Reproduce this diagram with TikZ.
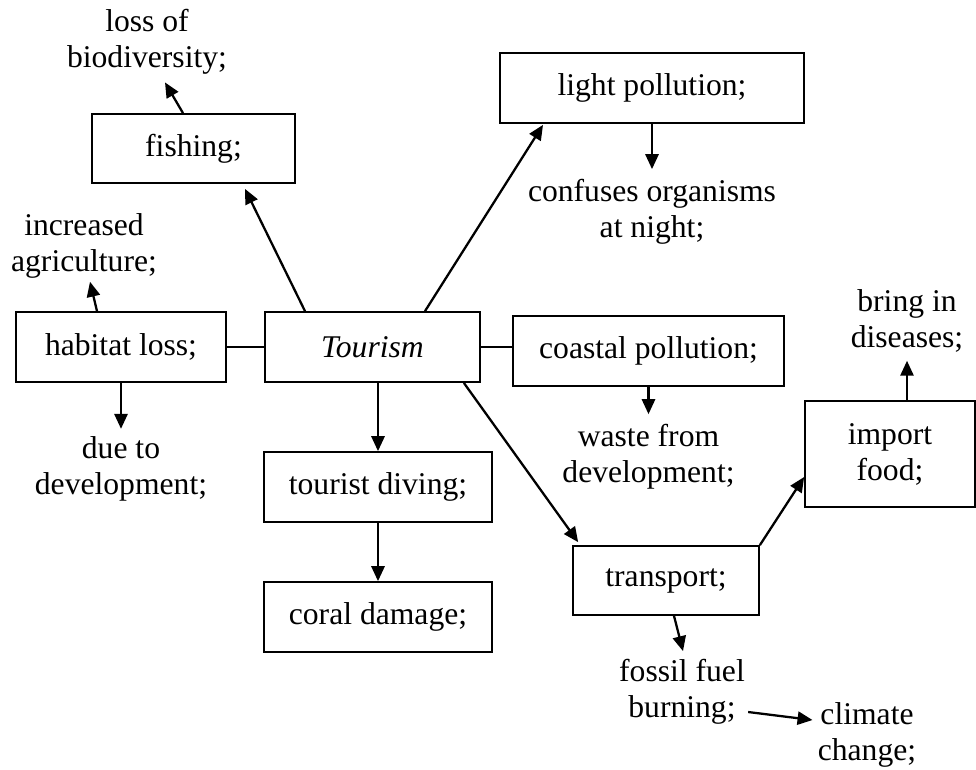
\documentclass[tikz,border=0pt]{standalone}
\usepackage{fontspec}
\setmainfont{Liberation Serif}
\usetikzlibrary{arrows.meta,calc}
\begin{document}
\begin{tikzpicture}[x=0.02cm, y=-0.02cm,
  font=\fontsize{18}{20.5}\selectfont,
  box/.style={draw, line width=1pt, inner sep=0pt, align=center},
  txt/.style={inner sep=0pt, align=center},
  arr/.style={line width=1.3pt, -{Triangle[length=8.5pt,width=7.5pt]}},
  ln/.style={line width=1.3pt}]
\useasboundingbox (0,0) rectangle (976,769);
\node[box, minimum width=4.3cm, minimum height=1.4cm] (tourism) at (372.5,347){\textit{Tourism}};
\node[box, minimum width=4.06cm, minimum height=1.38cm] (fishing) at (193.5,148.5){fishing;};
\node[txt] (loss) at (147,41.5){loss of\\biodiversity;};
\draw[arr]($(tourism.north)+(-67.5,0)$) -- ($(fishing.south)+(51.5,5)$);
\draw[arr]($(fishing.north)+(-10.5,0)$) -- ($(loss.south)+(18,8)$);
\node[box, minimum width=6.08cm, minimum height=1.4cm] (light) at (652,88){light pollution;};
\node[txt] (confuses) at (652,212){confuses organisms\\at night;};
\draw[arr]($(tourism.north)+(52.5,0)$) -- ($(light.south)+(-109,1)$);
\draw[arr](light.south) -- ($(confuses.north)+(0,-10)$);
\node[box, minimum width=4.2cm, minimum height=1.4cm] (habitat) at (121,347){habitat loss;};
\node[txt] (increased) at (84,246){increased\\agriculture;};
\node[txt] (due) at (121,468.5){due to\\development;};
\draw[ln](habitat.east) -- (tourism.west);
\draw[arr]($(habitat.north)+(-24,0)$) -- ($(increased.south)+(6,3)$);
\draw[arr](habitat.south) -- ($(due.north)+(0,-7)$);
\node[box, minimum width=4.56cm, minimum height=1.4cm] (diving) at (378,487){tourist diving;};
\node[box, minimum width=4.56cm, minimum height=1.4cm] (coral) at (378,617){coral damage;};
\draw[arr](tourism.south -| diving.north) -- (diving.north);
\draw[arr](diving.south) -- (coral.north);
\node[box, minimum width=5.42cm, minimum height=1.4cm] (coastal) at (648.5,351){coastal pollution;};
\node[txt] (waste) at (648.5,457){waste from\\development;};
\draw[ln](tourism.east) -- (tourism.east -| coastal.west);
\draw[arr](coastal.south) -- ($(waste.north)+(0,-10)$);
\node[box, minimum width=3.72cm, minimum height=1.38cm] (transport) at (666,580.5){transport;};
\node[box, minimum width=3.4cm, minimum height=2.12cm] (import) at (890,454){import\\food;};
\node[txt] (bring) at (907,321){bring in\\diseases;};
\draw[arr]($(tourism.south east)+(-17,0)$) -- ($(transport.north west)+(6,-3)$);
\draw[arr](transport.north east) -- ($(import.west)+(0,23)$);
\draw[arr](import.north -| bring.south) -- ($(bring.south)+(0,8)$);
\node[txt] (fossil) at (682,692){fossil fuel\\burning;};
\node[txt] (climate) at (867,735){climate\\change;};
\draw[arr]($(transport.south)+(8,0)$) -- ($(fossil.north)+(1,-8)$);
\draw[arr]($(fossil.east)+(3,20)$) -- ($(climate.west)+(-5,-15)$);
\end{tikzpicture}
\end{document}
